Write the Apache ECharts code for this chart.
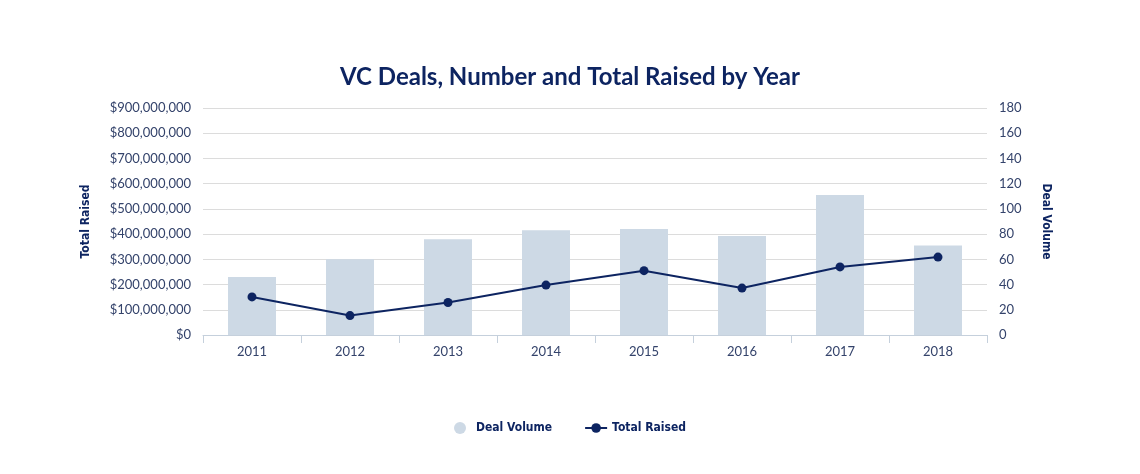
<!DOCTYPE html>
<html>
<head>
<meta charset="utf-8">
<script src="https://cdn.jsdelivr.net/npm/echarts@6/dist/echarts.min.js"></script>
<style>html,body{margin:0;padding:0;background:#fff}#c{width:1140px;height:474px}</style>
</head>
<body>
<div id="c"></div>
<script>
const years = ['2011','2012','2013','2014','2015','2016','2017','2018'];
const dealVolume = [46, 60, 76, 83, 84, 78.5, 111, 71];
const totalRaised = [151000000, 77000000, 129000000, 198000000, 255000000, 186000000, 270000000, 309000000];

const navy = '#0d2461';
const labelColor = '#34436b';
const condensed = '"DejaVu Sans Condensed", "DejaVu Sans", sans-serif';
const chart = echarts.init(document.getElementById('c'));
chart.setOption({
  backgroundColor: '#fff',
  animation: false,
  title: {
    text: 'VC Deals, Number and Total Raised by Year',
    left: 'center', top: 60,
    textStyle: { fontFamily: 'Lato', fontSize: 24, fontWeight: 'bold', color: navy }
  },
  legend: {
    bottom: 35, left: 'center', itemGap: 32, itemWidth: 22, itemHeight: 12,
    textStyle: { fontFamily: condensed, fontWeight: 'bold', fontSize: 12, color: navy },
    data: [{ name: 'Deal Volume', icon: 'circle' }, { name: 'Total Raised' }]
  },
  grid: { left: 203, right: 153, top: 108, bottom: 139, containLabel: false },
  xAxis: {
    type: 'category', data: years,
    axisLine: { lineStyle: { color: '#c5d0dc' } },
    axisTick: { show: true, length: 8, lineStyle: { color: '#c5d0dc' } },
    axisLabel: { fontFamily: 'Lato', fontSize: 13, color: labelColor, margin: 10 }
  },
  yAxis: [
    {
      type: 'value', min: 0, max: 900000000, interval: 100000000,
      name: 'Total Raised', nameLocation: 'middle', nameRotate: 90, nameGap: 111,
      nameTextStyle: { fontFamily: condensed, fontWeight: 'bold', fontSize: 12, color: navy },
      axisLine: { show: false }, axisTick: { show: false },
      axisLabel: {
        fontFamily: 'Lato', fontSize: 13, color: labelColor, margin: 12,
        formatter: v => '$' + v.toLocaleString('en-US')
      },
      splitLine: { lineStyle: { color: '#dcdcdc' } }
    },
    {
      type: 'value', min: 0, max: 180, interval: 20,
      name: 'Deal Volume', nameLocation: 'middle', nameRotate: -90, nameGap: 53,
      nameTextStyle: { fontFamily: condensed, fontWeight: 'bold', fontSize: 12, color: navy },
      axisLine: { show: false }, axisTick: { show: false },
      axisLabel: { fontFamily: 'Lato', fontSize: 13, color: labelColor, margin: 12 },
      splitLine: { show: false }
    }
  ],
  series: [
    {
      name: 'Deal Volume', type: 'bar', yAxisIndex: 1, data: dealVolume,
      barWidth: 48, itemStyle: { color: '#cdd9e5' }
    },
    {
      name: 'Total Raised', type: 'line', yAxisIndex: 0, data: totalRaised,
      symbol: 'circle', symbolSize: 9,
      lineStyle: { color: navy, width: 2 }, itemStyle: { color: navy }
    }
  ]
});
</script>
</body>
</html>
